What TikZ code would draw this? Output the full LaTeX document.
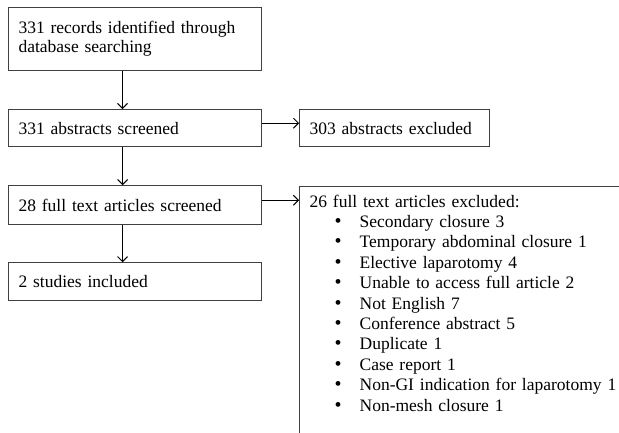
\documentclass[tikz,border=0pt]{standalone}
\usepackage{fontspec}
\setmainfont{Liberation Serif}
\usetikzlibrary{arrows.meta,positioning}

% bullet line inside the exclusion box
\newcommand{\exitem}[1]{\hspace*{25pt}\makebox[25pt][l]{\fontsize{20}{20}\selectfont\textbullet}#1}

\begin{document}
\begin{tikzpicture}[
    x=1pt, y=1pt,
    >={Straight Barb[length=5pt,width=10pt]},
    % styles
    box/.style={
        draw=black!75,
        line width=1.1pt,
        align=left,
        text width=233pt,
        inner xsep=10pt,
        font=\fontsize{17.5}{19}\selectfont
    },
    sidebox/.style={
        box,
        text width=170pt
    },
    listbox/.style={
        box,
        text width=320pt,
        inner ysep=8pt,
        font=\fontsize{17.5}{20.4}\selectfont
    },
    flow/.style={->, line width=1pt}
]

    % --- frame of the picture ---
    \useasboundingbox (0,0) rectangle (619,-433);
    \clip (0,0) rectangle (619,-433);

    % --- left column ---
    \node[box, anchor=north west, minimum height=63pt] (records) at (8,-7) {
        331 records identified through\\
        database searching
    };
    \node[box, below=38pt of records.south west, anchor=north west, minimum height=37pt] (screened) {
        331 abstracts screened
    };
    \node[box, below=38pt of screened.south west, anchor=north west, minimum height=39pt] (fulltext) {
        28 full text articles screened
    };
    \node[box, below=37pt of fulltext.south west, anchor=north west, minimum height=38pt] (included) {
        2 studies included
    };

    % --- right column ---
    \node[sidebox, right=37pt of screened, minimum height=37pt] (absexcl) {
        303 abstracts excluded
    };
    \node[listbox, right=37pt of fulltext.north east, anchor=north west, yshift=-1pt] (ftexcl) {
        26 full text articles excluded:\\
        \exitem{Secondary closure 3}\\
        \exitem{Temporary abdominal closure 1}\\
        \exitem{Elective laparotomy 4}\\
        \exitem{Unable to access full article 2}\\
        \exitem{Not English 7}\\
        \exitem{Conference abstract 5}\\
        \exitem{Duplicate 1}\\
        \exitem{Case report 1}\\
        \exitem{Non-GI indication for laparotomy 1}\\
        \exitem{Non-mesh closure 1}\\[40pt]
        \mbox{}
    };

    % --- arrows ---
    \draw[flow] ([xshift=-12.5pt]records.south) -- ([xshift=-12.5pt]screened.north);
    \draw[flow] ([xshift=-12.5pt]screened.south) -- ([xshift=-12.5pt]fulltext.north);
    \draw[flow] ([xshift=-12.5pt]fulltext.south) -- ([xshift=-12.5pt]included.north);
    \draw[flow] ([yshift=5pt]screened.east) -- ([yshift=5pt]absexcl.west);
    \draw[flow] ([yshift=5pt]fulltext.east) -- ([yshift=5pt]fulltext.east -| ftexcl.west);

\end{tikzpicture}
\end{document}
